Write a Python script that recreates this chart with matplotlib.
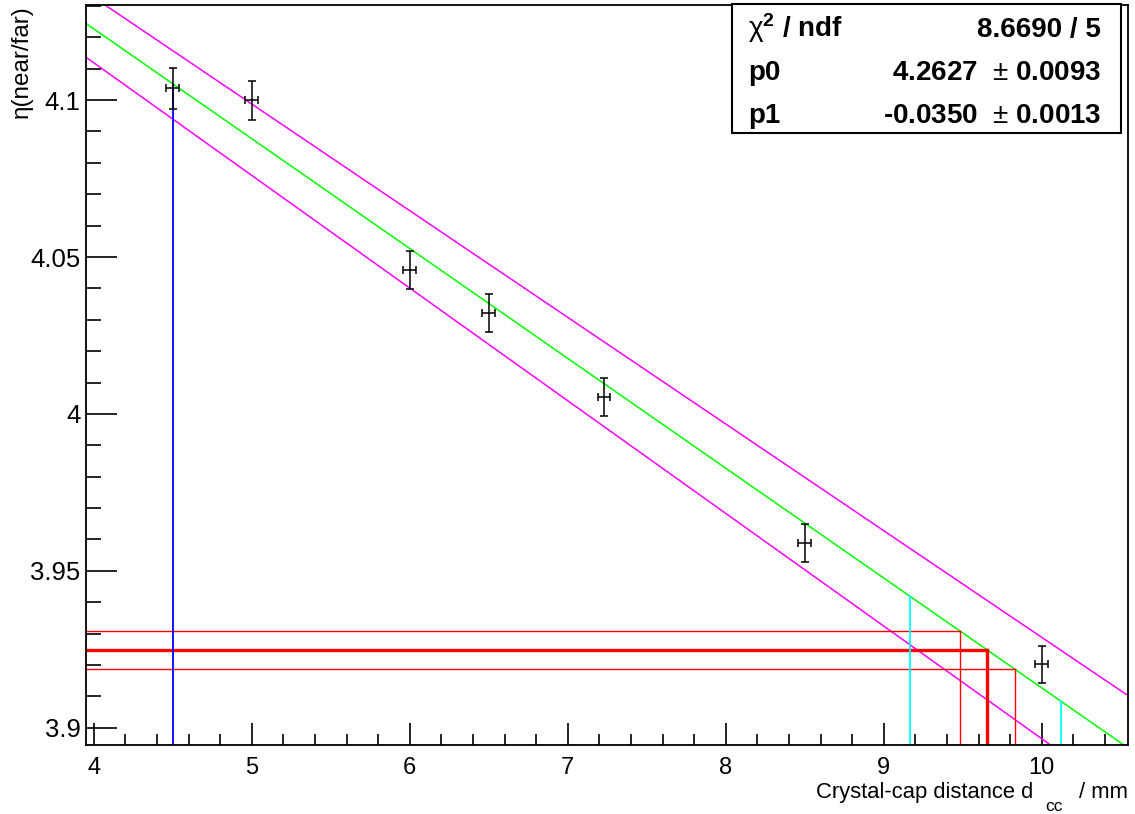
import numpy as np
import matplotlib
matplotlib.use("Agg")
import matplotlib.pyplot as plt
from matplotlib.patches import Rectangle
from matplotlib.ticker import MultipleLocator

plt.rcParams["font.family"] = ["Liberation Sans", "DejaVu Sans"]
plt.rcParams["mathtext.fontset"] = "custom"
plt.rcParams["mathtext.rm"] = "Liberation Sans"
plt.rcParams["mathtext.it"] = "Liberation Sans:italic"
plt.rcParams["mathtext.bf"] = "Liberation Sans:bold"

# measured points
x_pts = [4.5, 5.0, 6.0, 6.5, 7.23, 8.5, 10.0]
y_pts = [4.1037, 4.1000, 4.0458, 4.0322, 4.0053, 3.9588, 3.9202]
ey_pts = [0.0066, 0.0062, 0.0061, 0.0061, 0.0060, 0.0061, 0.0060]
ex_pts = [0.04] * 7

# fit result and band lines
p0, p1 = 4.2627, -0.0350
band_hi = (4.2687, -0.03399)
band_lo = (4.2555, -0.0359)

# measured eta and its error -> distance
eta_meas = 3.9248
eta_err = 0.0061
x_cyan = [9.165, 10.122]
x_blue = 4.5

xmin, xmax = 3.951, 10.546
ymin, ymax = 3.8945, 4.1303

W, H = 1135, 814
fig = plt.figure(figsize=(W/100, H/100), dpi=100)
ax = fig.add_axes([86/W, 1-745/H, (1128-86)/W, (745-5)/H])
ax.set_xlim(xmin, xmax)
ax.set_ylim(ymin, ymax)

xx = np.array([xmin, xmax])
ax.plot(xx, p0 + p1*xx, color="#00ff00", lw=1.1)
ax.plot(xx, band_hi[0] + band_hi[1]*xx, color="#ff00ff", lw=1.1)
ax.plot(xx, band_lo[0] + band_lo[1]*xx, color="#ff00ff", lw=1.1)

# red lines: horizontal to the fit line, then down to the axis
for yv, lw in [(eta_meas + eta_err, 1.0), (eta_meas, 2.4), (eta_meas - eta_err, 1.0)]:
    xc = (p0 - yv) / (-p1)
    ax.plot([xmin, xc], [yv, yv], color="#ff0000", lw=lw)
    ax.plot([xc, xc], [ymin, yv], color="#ff0000", lw=lw)

for xc in x_cyan:
    ax.plot([xc, xc], [ymin, p0 + p1*xc], color="#00ffff", lw=1.3)

ax.plot([x_blue, x_blue], [ymin, p0 + p1*x_blue], color="#0000ff", lw=1.3)

ax.errorbar(x_pts, y_pts, yerr=ey_pts, xerr=ex_pts, fmt="none", ecolor="black",
            elinewidth=1.1, capsize=2.6, capthick=1.1, zorder=5)

ax.xaxis.set_major_locator(MultipleLocator(1))
ax.xaxis.set_minor_locator(MultipleLocator(0.2))
ax.yaxis.set_major_locator(MultipleLocator(0.05))
ax.yaxis.set_minor_locator(MultipleLocator(0.01))
ax.tick_params(axis="both", which="both", direction="in", top=False, right=False,
               width=1.2)
ax.tick_params(axis="x", which="major", length=15.6, pad=8.5, labelsize=17)
ax.tick_params(axis="x", which="minor", length=7.7)
ax.tick_params(axis="y", which="major", length=22, pad=4, labelsize=18.5)
ax.tick_params(axis="y", which="minor", length=10.6)
ax.set_xticks([4, 5, 6, 7, 8, 9, 10])
ax.set_xticklabels(["4", "5", "6", "7", "8", "9", "10"])
ax.set_yticks([3.9, 3.95, 4.0, 4.05, 4.1])
ax.set_yticklabels(["3.9", "3.95", "4", "4.05", "4.1"])
for s in ax.spines.values():
    s.set_linewidth(1.3)

# x title, ROOT-style subscript
fig.text(1033/W, 1-798/H, "Crystal-cap distance d", ha="right", va="baseline",
         fontsize=15.8)
fig.text(1045/W, 1-811/H, "cc", ha="left", va="baseline", fontsize=12.5)
fig.text(1128/W, 1-798/H, "/ mm", ha="right", va="baseline", fontsize=15.8)
fig.text(22/W, 1-5/H, "η(near/far)", rotation=90, ha="center", va="top",
         fontsize=17.5)

# stats box
fig.patches.append(Rectangle((732/W, 1-133/H), (1121-732)/W, (133-4)/H,
                             transform=fig.transFigure, facecolor="white",
                             edgecolor="black", lw=1.5, zorder=10))
rows = [(r"$\mathrm{χ}^{\mathbf{2}}$ / ndf", "8.6690 / 5"),
        ("p0", r"4.2627  $\pm$ 0.0093"),
        ("p1", r"-0.0350  $\pm$ 0.0013")]
for i, (lab, val) in enumerate(rows):
    yb = 1 - (37 + 43*i)/H
    fig.text(748/W, yb, lab, ha="left", va="baseline", fontsize=20,
             fontweight="bold", zorder=11)
    fig.text(1101/W, yb, val, ha="right", va="baseline", fontsize=20,
             fontweight="bold", zorder=11)

fig.savefig("out.png", dpi=100)
